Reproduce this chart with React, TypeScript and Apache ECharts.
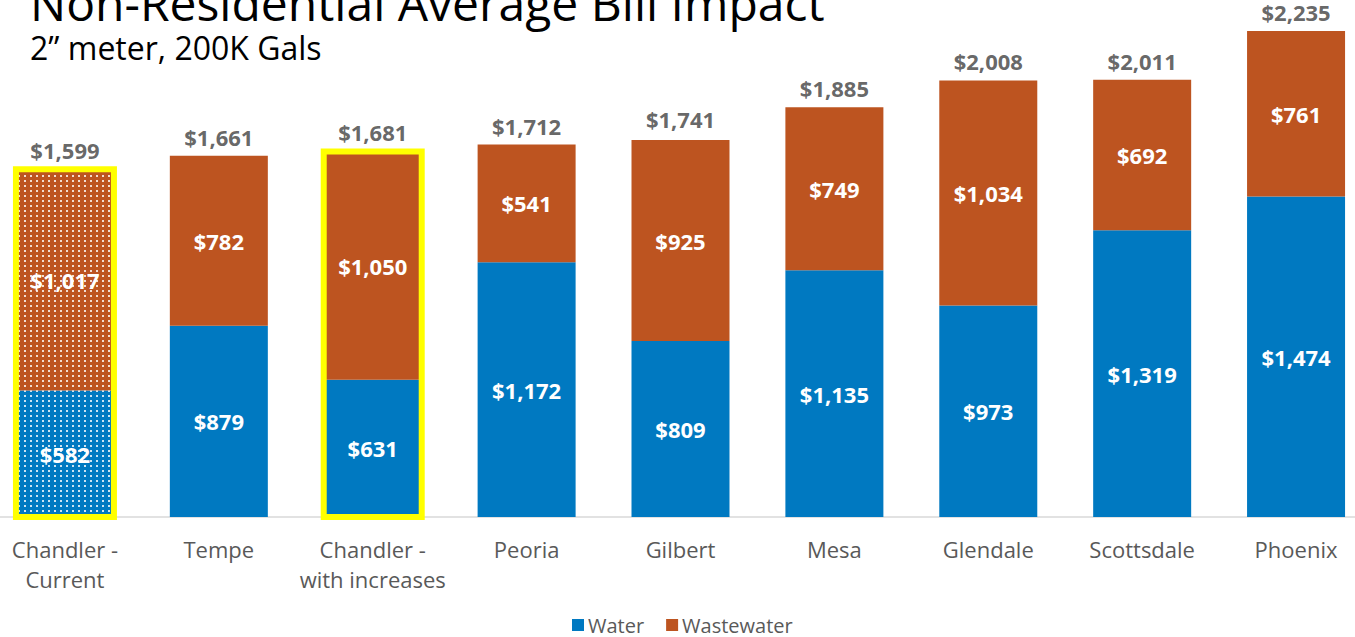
import React, { useEffect, useRef } from "react";
import * as echarts from "echarts";

const categories = [
  "Chandler -\nCurrent",
  "Tempe",
  "Chandler -\nwith increases",
  "Peoria",
  "Gilbert",
  "Mesa",
  "Glendale",
  "Scottsdale",
  "Phoenix",
];
const water = [582, 879, 631, 1172, 809, 1135, 973, 1319, 1474];
const wastewater = [1017, 782, 1050, 541, 925, 749, 1034, 692, 761];
const totals = [1599, 1661, 1681, 1712, 1741, 1885, 2008, 2011, 2235];
const highlighted = [0, 2];
const patterned = [0];

const WATER = "#0079C1";
const WASTE = "#BD5420";
const FONT = "Open Sans";
const BAR_W = 98;
const SHIFT = 12;

const money = (v: number) => "$" + v.toLocaleString("en-US");

export default function App() {
  const ref = useRef<HTMLDivElement>(null);
  useEffect(() => {
    document.body.style.overflow = "hidden";
    const chart = echarts.init(ref.current!, null, { renderer: "svg" });
    const decal = {
      symbol: "rect",
      symbolSize: 1,
      color: "rgba(255,255,255,0.8)",
      dashArrayX: [2, 4],
      dashArrayY: [2, 3],
      rotation: 0,
    };
    const withDecal = (arr: number[]) =>
      arr.map((v, i) =>
        patterned.includes(i) ? { value: v, itemStyle: { decal } } : v
      );
    const inner = {
      show: true,
      position: "inside",
      color: "#fff",
      fontWeight: "bold",
      fontSize: 22,
      fontFamily: FONT,
      formatter: (p: any) => money(p.value),
    };
    chart.setOption({
      animation: false,
      textStyle: { fontFamily: FONT },
      graphic: [
        {
          type: "text",
          left: 30 + SHIFT,
          top: -22,
          style: {
            text: "Non-Residential Average Bill Impact",
            font: `48px "${FONT}"`,
            fill: "#000",
          },
        },
        {
          type: "text",
          left: 30 + SHIFT,
          top: 31,
          style: {
            text: "2\u201D meter, 200K Gals",
            font: `32px "${FONT}"`,
            fill: "#000",
          },
        },
      ],
      grid: { left: 0, right: 0, top: 31, bottom: 120 },
      legend: {
        data: ["Water", "Wastewater"],
        left: 567 + SHIFT,
        top: 610,
        itemWidth: 12,
        itemHeight: 12,
        itemGap: 22,
        icon: "rect",
        textStyle: { color: "#595959", fontSize: 20, fontFamily: FONT, padding: [0, 0, 0, -1] },
      },
      xAxis: {
        type: "category",
        data: categories,
        axisTick: { show: false },
        axisLine: { lineStyle: { color: "#D9D9D9", width: 1.5 } },
        axisLabel: {
          interval: 0,
          color: "#595959",
          fontSize: 22,
          lineHeight: 30,
          margin: 17,
          fontFamily: FONT,
        },
      },
      yAxis: {
        type: "value",
        min: 0,
        max: 2235,
        show: false,
        splitLine: { show: false },
      },
      series: [
        {
          name: "Water",
          type: "bar",
          stack: "bill",
          barWidth: BAR_W,
          itemStyle: { color: WATER },
          label: inner,
          data: withDecal(water),
        },
        {
          name: "Wastewater",
          type: "bar",
          stack: "bill",
          barWidth: BAR_W,
          itemStyle: { color: WASTE },
          label: inner,
          data: withDecal(wastewater),
        },
        {
          name: "Total",
          type: "scatter",
          symbolSize: 0,
          z: 5,
          label: {
            show: true,
            position: "top",
            distance: 8,
            color: "#404040",
            fontWeight: "bold",
            fontSize: 22,
            lineHeight: 22,
            fontFamily: FONT,
            formatter: (p: any) => money(p.value),
          },
          data: totals,
        },
        {
          name: "Frame",
          type: "custom",
          z: 4,
          silent: true,
          data: highlighted.map((i) => [i, totals[i]]),
          encode: { x: 0, y: 1 },
          renderItem: (params: any, api: any) => {
            const top = api.coord([api.value(0), api.value(1)]);
            const base = api.coord([api.value(0), 0]);
            return {
              type: "rect",
              shape: {
                x: top[0] - BAR_W / 2,
                y: top[1],
                width: BAR_W,
                height: base[1] - top[1],
              },
              style: { fill: "none", stroke: "#FFFF00", lineWidth: 6 },
            };
          },
        },
      ],
    });
    return () => chart.dispose();
  }, []);
  return (
    <div
      ref={ref}
      style={{
        position: "absolute",
        left: -SHIFT,
        top: 0,
        width: 1355 + SHIFT + 18,
        height: 637,
      }}
    />
  );
}
